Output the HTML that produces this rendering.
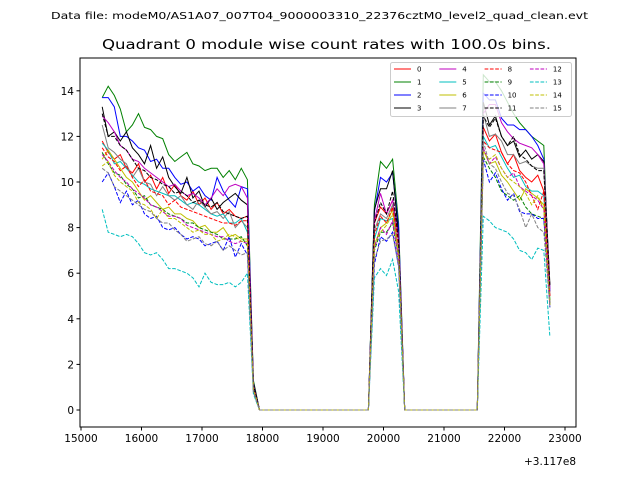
<!DOCTYPE html>
<html><head><meta charset="utf-8"><style>
body{margin:0;background:#fff}
svg{font-family:"DejaVu Sans","Liberation Sans",sans-serif}
</style></head><body>
<svg id="chart" width="640" height="480">
<rect width="640" height="480" fill="#fff"/>
<text x="51" y="19" font-size="10" textLength="537" lengthAdjust="spacingAndGlyphs">Data file: modeM0/AS1A07_007T04_9000003310_22376cztM0_level2_quad_clean.evt</text>
<text x="102" y="49" font-size="13.5" textLength="449" lengthAdjust="spacingAndGlyphs">Quadrant 0 module wise count rates with 100.0s bins.</text>
<g id="plot"></g>
<g id="axes"></g>
<g id="legend"></g>
</svg>
<script>
const segStart=15350, seg2Start=19850, seg3Start=21650;
const s1=[
[11.8,11.3,11.0,11.2,10.6,10.4,10.8,10.0,10.3,9.7,10.2,9.5,9.9,9.4,9.2,9.6,9.0,9.3,8.8,9.1,8.6,8.8,8.5,8.4,8.5],
[13.7,14.2,13.8,13.2,12.2,12.5,13.0,12.4,12.3,12.0,11.9,11.2,10.9,11.1,11.3,10.8,10.7,10.5,10.6,10.6,10.2,10.5,10.1,10.6,10.1],
[13.7,13.7,13.3,12.0,12.0,11.8,11.5,11.4,10.9,11.0,10.6,10.6,10.2,9.9,10.0,9.6,9.8,9.4,9.2,10.2,9.6,9.2,8.9,9.8,9.7],
[13.3,12.0,12.2,11.8,12.2,11.5,11.2,10.8,11.6,10.6,11.1,10.2,9.8,9.5,10.2,9.3,9.6,8.9,9.3,8.8,9.1,9.3,9.5,9.2,9.0],
[12.9,12.6,12.2,11.6,11.4,11.0,10.9,10.6,10.4,10.2,10.0,9.8,9.9,9.6,9.4,9.5,9.3,9.0,9.3,9.7,9.4,9.8,9.9,9.8,9.3],
[11.7,11.4,10.8,10.9,10.6,10.3,10.0,9.9,9.7,9.6,9.5,9.4,9.4,9.2,9.0,9.1,9.0,8.8,8.6,8.5,8.6,8.2,8.2,8.4,7.8],
[11.0,11.4,11.0,10.6,10.2,10.0,9.6,9.2,9.4,9.1,8.8,8.9,8.6,8.6,8.4,8.3,8.0,8.1,7.8,7.8,8.0,7.6,7.7,7.5,7.5],
[12.5,11.5,11.3,11.0,10.8,10.2,10.6,10.0,9.9,9.4,9.8,9.4,9.2,9.4,9.0,8.8,9.2,8.9,8.6,8.7,8.4,8.7,8.0,8.3,8.0],
[11.5,11.1,10.9,10.5,10.7,10.2,9.8,10.1,9.6,9.5,9.4,9.0,9.2,8.9,8.8,8.7,8.6,8.5,8.4,8.3,8.2,8.2,8.1,8.3,8.3],
[11.3,10.8,10.4,10.3,9.9,9.7,9.3,9.4,9.0,8.9,8.8,8.6,8.5,8.4,8.2,8.2,8.0,7.9,7.8,7.7,7.5,7.5,7.5,7.6,7.2],
[10.0,10.4,9.8,9.1,9.6,9.0,9.2,8.6,8.4,8.5,8.0,7.9,8.0,7.7,7.5,7.6,7.5,7.2,7.3,7.4,7.0,7.6,6.7,7.3,6.8],
[13.0,12.0,12.0,11.6,11.4,11.0,10.6,10.5,10.2,10.1,9.9,9.8,9.5,9.6,9.4,9.1,9.2,9.0,8.9,9.1,8.7,8.6,8.5,8.4,8.5],
[11.2,10.9,10.5,10.2,10.0,9.7,9.5,9.3,9.0,8.9,8.7,8.5,8.5,8.4,8.1,8.0,7.9,7.8,7.7,7.6,7.6,7.4,7.3,7.4,7.3],
[8.8,7.8,7.7,7.6,7.7,7.6,7.3,6.9,6.8,6.9,6.6,6.2,6.2,6.1,6.0,5.8,5.4,6.0,5.6,5.5,5.5,5.6,5.4,5.6,6.0],
[10.7,10.9,10.3,10.0,9.8,9.6,9.1,9.0,8.8,8.4,8.8,8.4,8.4,8.2,8.0,7.8,7.9,7.7,7.7,7.4,7.5,7.7,7.6,7.4,7.4],
[10.6,10.4,9.8,9.6,9.4,9.2,9.0,8.8,8.7,8.4,8.2,8.2,7.9,7.7,7.4,7.5,7.6,7.3,7.2,7.4,7.0,7.2,7.0,6.8,6.9]];
const fall=[1.1,1.3,1.2,1.2,1.1,1.0,0.9,1.0,1.0,0.9,0.8,1.1,0.9,0.7,0.9,0.8];
const s2=[[8.2,8.9,8.6,9.2,7.5],[9.0,10.9,10.6,11.0,8.2],[8.7,10.2,10.0,10.4,8.0],[8.8,9.7,9.7,10.5,7.6],
[8.3,9.5,8.6,9.2,7.6],[7.5,8.4,8.3,8.4,7.0],[7.2,8.0,8.2,8.8,6.8],[7.9,8.6,8.4,9.0,7.0],
[7.7,8.5,8.2,8.9,7.2],[7.0,7.8,7.8,8.2,6.6],[6.4,7.6,7.4,7.8,6.3],[8.2,9.1,8.6,9.6,7.4],
[7.1,8.0,7.7,8.3,6.6],[5.8,6.2,5.9,6.6,5.2],[7.3,7.8,8.1,8.6,6.8],[6.6,7.4,7.5,7.7,6.3]];
const s3=[
[12.4,11.8,12.1,11.3,10.8,11.2,10.5,10.2,10.0,10.3,9.6],
[14.7,14.4,14.4,14.0,13.5,13.0,12.6,12.3,12.0,11.8,11.6],
[13.9,13.6,13.6,12.8,12.5,12.5,12.3,12.3,12.0,11.6,11.0],
[13.5,12.5,12.9,12.0,11.6,11.8,11.1,11.4,11.0,11.2,10.9],
[13.0,13.4,13.4,12.6,12.2,11.9,11.7,11.6,11.5,11.2,10.8],
[12.0,11.5,11.6,11.1,10.6,10.2,10.3,9.8,9.6,9.6,9.4],
[11.4,10.8,10.9,10.3,10.0,9.6,9.2,9.7,9.5,9.3,9.0],
[13.0,12.0,12.1,11.8,11.2,11.2,10.8,10.9,10.7,10.6,10.6],
[11.8,11.5,11.4,11.3,10.8,10.5,10.4,10.0,9.4,8.8,9.6],
[11.1,10.6,10.2,9.6,9.4,9.2,9.4,8.9,8.6,8.5,8.4],
[11.0,10.0,10.4,9.7,9.2,9.5,8.7,8.6,8.6,8.4,8.4],
[12.9,12.4,12.8,12.0,11.6,12.0,11.2,11.0,10.7,10.5,10.5],
[11.5,10.8,11.1,10.6,10.2,10.4,9.8,9.6,9.4,9.2,8.8],
[8.5,8.3,8.0,7.9,7.8,7.5,7.0,6.9,6.6,7.1,7.0],
[11.3,11.0,11.2,10.6,10.2,10.0,9.8,9.5,9.0,9.4,8.8],
[11.8,10.8,10.6,10.0,9.5,9.4,8.8,8.0,8.6,8.0,7.8]];
const endVal=[5.0,4.6,5.2,5.5,5.3,4.8,4.8,5.0,5.0,4.7,4.5,5.4,4.6,3.2,4.6,4.5];
const xTicks=[15000,16000,17000,18000,19000,20000,21000,22000,23000];
const yTicks=[0,2,4,6,8,10,12,14];
const labels=["0","1","2","3","4","5","6","7","8","9","10","11","12","13","14","15"];
const colors=["#ff0000","#008000","#0000ff","#000000","#bf00bf","#00bfbf","#bfbf00","#808080"];

const L=80,R=576,T=58,B=427;
const X=v=>81+(v-15000)*0.0605;
const Y=v=>410-v*22.8;
const NS="http://www.w3.org/2000/svg";
function mk(tag,attrs,parent){const e=document.createElementNS(NS,tag);for(const k in attrs)e.setAttribute(k,attrs[k]);parent.appendChild(e);return e;}

const plot=document.getElementById('plot');
for(let s=0;s<16;s++){
  const pts=[];
  s1[s].forEach((v,i)=>pts.push([segStart+100*i,v]));
  const t1=segStart+100*s1[s].length;
  pts.push([t1,fall[s]]);
  for(let t=t1+100;t<seg2Start;t+=100)pts.push([t,0]);
  s2[s].forEach((v,i)=>pts.push([seg2Start+100*i,v]));
  for(let t=seg2Start+100*s2[s].length;t<seg3Start;t+=100)pts.push([t,0]);
  s3[s].forEach((v,i)=>pts.push([seg3Start+100*i,v]));
  pts.push([seg3Start+100*s3[s].length,endVal[s]]);
  const p=mk('polyline',{points:pts.map(q=>X(q[0]).toFixed(1)+','+Y(q[1]).toFixed(1)).join(' '),fill:'none',stroke:colors[s%8],'stroke-width':1,'stroke-dasharray':s>=8?'3.7,1.6':'none'},plot);
  
  
}
const axes=document.getElementById('axes');
const fr=mk('rect',{x:L,y:T,width:R-L,height:B-T,fill:'none',stroke:'#000','stroke-width':1},axes);


xTicks.forEach(v=>{
  mk('line',{x1:X(v),x2:X(v),y1:B,y2:B+3.5,stroke:'#000'},axes);
  const t=mk('text',{x:X(v),y:B+15,'font-size':10.5,'text-anchor':'middle'},axes);t.textContent=v;
  
  
});
yTicks.forEach(v=>{
  mk('line',{x1:L,x2:L-3.5,y1:Y(v),y2:Y(v),stroke:'#000'},axes);
  const t=mk('text',{x:L-6,y:Y(v)+4,'font-size':10.5,'text-anchor':'end'},axes);t.textContent=v;
  
  
});
const off=mk('text',{x:576,y:465,'font-size':10.5,'text-anchor':'end'},axes);off.textContent='+3.117e8';



const lg=document.getElementById('legend');
const lb=mk('rect',{x:390.5,y:62.5,width:181,height:54,fill:'#fff','fill-opacity':0.8,stroke:'#ccc',rx:2},lg);


for(let s=0;s<16;s++){
  const c=Math.floor(s/4),r=s%4;
  const x=394+c*45.3,y=69+r*13;
  const g=mk('g',{},lg);
  
  
  mk('line',{x1:x,x2:x+17,y1:y,y2:y,stroke:colors[s%8],'stroke-width':1,'stroke-dasharray':s>=8?'3.7,1.6':'none'},g);
  const t=mk('text',{x:x+23,y:y+2.5,'font-size':7},g);t.textContent=labels[s];
}
</script>
</body></html>
